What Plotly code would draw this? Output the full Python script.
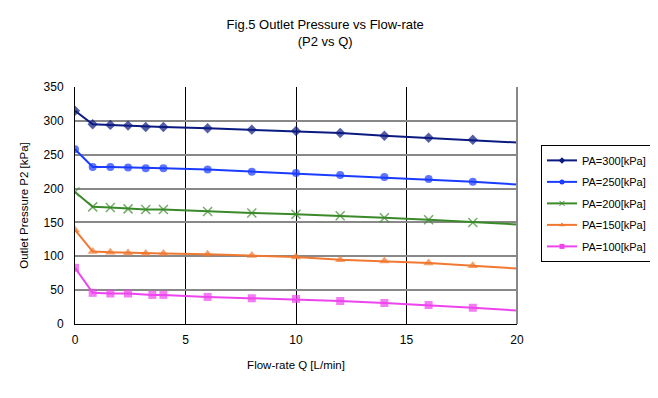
import plotly.graph_objects as go

# Flow-rate Q [L/min] (last point at 20 has no marker in the reference)
q = [0, 0.8, 1.6, 2.4, 3.2, 4.0, 6.0, 8.0, 10.0, 12.0, 14.0, 16.0, 18.0, 20.0]
q_pa100 = [0, 0.8, 1.6, 2.4, 3.5, 4.0, 6.0, 8.0, 10.0, 12.0, 14.0, 16.0, 18.0, 20.0]

pa300 = [315, 295, 294, 293, 291, 291, 289, 287, 285, 282, 278, 275, 272, 268]
pa250 = [258, 232, 232, 231, 230, 230, 228, 225, 223, 220, 217, 214, 210, 206]
pa200 = [195, 173, 172, 170, 169, 169, 166, 164, 162, 160, 157, 154, 150, 147]
pa150 = [139, 107, 106, 105, 104, 104, 103, 101, 99, 95, 93, 90, 86, 82]
pa100 = [83, 46, 45, 45, 43, 43, 40, 38, 37, 34, 31, 28, 24, 20]

series_names = ["PA=300[kPa]", "PA=250[kPa]", "PA=200[kPa]", "PA=150[kPa]", "PA=100[kPa]"]
x_ticks = [0, 5, 10, 15, 20]
y_ticks = [0, 50, 100, 150, 200, 250, 300, 350]

styles = [
    dict(color="#0b1a80", symbol="diamond", size=8),
    dict(color="#1a3cff", symbol="circle", size=8),
    dict(color="#3a8a2a", symbol="x-thin-open", size=9),
    dict(color="#f07830", symbol="triangle-up", size=9),
    dict(color="#ee44ee", symbol="square", size=8),
]
xs = [q, q, q, q, q_pa100]
ys = [pa300, pa250, pa200, pa150, pa100]

fig = go.Figure()
for name, x, y, st in zip(series_names, xs, ys, styles):
    sizes = [st["size"]] * (len(x) - 1) + [0]
    is_x = "x" in st["symbol"]
    fig.add_trace(go.Scatter(
        x=x, y=y, name=name, mode="lines+markers", showlegend=False, legendgroup=name,
        line=dict(color=st["color"], width=2),
        marker=dict(color=st["color"], symbol=st["symbol"], size=sizes,
                    line=dict(color=st["color"], width=1.5 if is_x else 0)),
    ))
    # legend entry with the small marker look of the reference
    fig.add_trace(go.Scatter(
        x=[None], y=[None], name=name, mode="lines+markers", legendgroup=name,
        line=dict(color=st["color"], width=2),
        marker=dict(color=st["color"], symbol=st["symbol"], size=5,
                    line=dict(color=st["color"], width=1 if is_x else 0)),
    ))

fig.update_layout(
    width=650, height=390,
    margin=dict(l=67, r=141, t=79, b=74),
    paper_bgcolor="white", plot_bgcolor="white",
    font=dict(family="Liberation Sans, Arial, sans-serif", size=11, color="black"),
    title=dict(text="Fig.5 Outlet Pressure vs Flow-rate<br>(P2 vs Q)",
               xref="container", x=0.488, xanchor="center", y=0.946, yanchor="top",
               font=dict(size=13)),
    legend=dict(xref="container", yref="container", x=0.82, y=0.649,
                xanchor="left", yanchor="top",
                bordercolor="black", borderwidth=1, bgcolor="white",
                font=dict(size=11), tracegroupgap=2.5, itemwidth=30),
    showlegend=True,
)
fig.update_xaxes(
    range=[0, 20], tickvals=x_ticks, showgrid=True, gridcolor="black", gridwidth=1,
    showline=True, linecolor="black", linewidth=1, zeroline=False,
    ticks="outside", ticklen=5, tickcolor="rgba(0,0,0,0)", automargin=False,
    tickfont=dict(size=12),
    title=dict(text="Flow-rate Q [L/min]", font=dict(size=11.5), standoff=14),
)
fig.update_yaxes(
    range=[0, 350], tickvals=y_ticks, showgrid=True, gridcolor="#888888", gridwidth=2,
    showline=True, linecolor="black", linewidth=1, zeroline=False,
    ticks="outside", ticklen=8, tickcolor="rgba(0,0,0,0)", automargin=False,
    tickfont=dict(size=12),
    title=dict(text="Outlet Pressure P2 [kPa]", font=dict(size=11.5), standoff=12),
)
fig.add_shape(type="line", xref="paper", yref="paper", x0=1, x1=1, y0=0, y1=1,
              line=dict(color="#888888", width=2))

fig.write_html("out.html")
